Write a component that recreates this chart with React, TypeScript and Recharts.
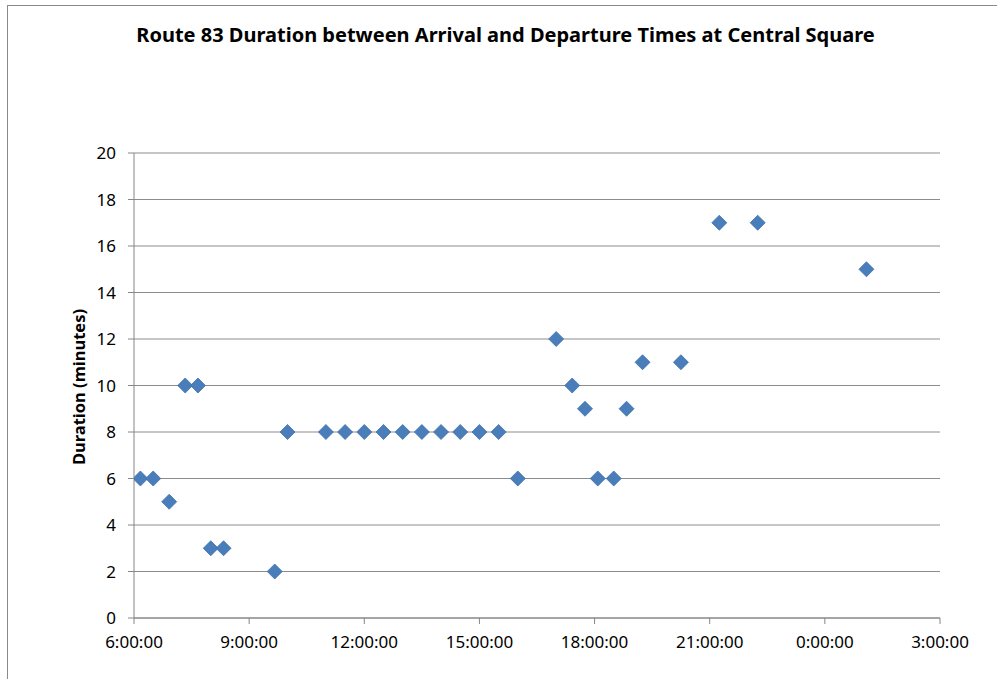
import React from "react";
import { ScatterChart, Scatter, XAxis, YAxis, CartesianGrid } from "recharts";

// hours after midnight; values past 24 are the next morning
const departHours = [
  6 + 10 / 60, 6.5, 6 + 55 / 60, 7 + 20 / 60, 7 + 40 / 60, 8, 8 + 20 / 60, 9 + 40 / 60,
  10, 11, 11.5, 12, 12.5, 13, 13.5, 14, 14.5, 15, 15.5, 16,
  17, 17 + 25 / 60, 17.75, 18 + 5 / 60, 18.5, 18 + 50 / 60, 19.25, 20.25, 21.25, 22.25, 25 + 5 / 60,
];
const durations = [
  6, 6, 5, 10, 10, 3, 3, 2,
  8, 8, 8, 8, 8, 8, 8, 8, 8, 8, 8, 6,
  12, 10, 9, 6, 6, 9, 11, 11, 17, 17, 15,
];
const xTicks = [6, 9, 12, 15, 18, 21, 24, 27];
const yTicks = [0, 2, 4, 6, 8, 10, 12, 14, 16, 18, 20];

const data = departHours.map((h, i) => ({ t: h, d: durations[i] }));

const FONT = "'Noto Sans', 'Open Sans', sans-serif";
const AXIS = "#868686";

const fmtTime = (h: number) => `${h % 24}:00:00`;

const Diamond = (props: any) => {
  const { cx, cy } = props;
  const r = 7.5;
  return (
    <polygon
      points={`${cx},${cy - r} ${cx + r},${cy} ${cx},${cy + r} ${cx - r},${cy}`}
      fill="#4a7ebb"
      stroke="#3f70ad"
      strokeWidth={0.8}
    />
  );
};

export default function App() {
  return (
    <div style={{ position: "relative", width: 997, height: 679, background: "#fff", fontFamily: FONT }}>
      <style>{"body{margin:0;overflow:hidden;background:#fff}"}</style>
      <div
        style={{
          position: "absolute", left: 7, top: 5, width: 990, height: 674,
          borderLeft: "1px solid #8a8a8a", borderTop: "1px solid #8a8a8a", boxSizing: "border-box",
        }}
      />
      <div
        style={{
          position: "absolute", left: 0, top: 21, width: 1011, textAlign: "center",
          fontSize: 20, fontWeight: 700, color: "#000",
        }}
      >
        Route 83 Duration between Arrival and Departure Times at Central Square
      </div>
      <div
        style={{
          position: "absolute", left: 78, top: 387, transform: "translate(-50%, -50%) rotate(-90deg)",
          fontSize: 16.5, fontWeight: 700, color: "#000", whiteSpace: "nowrap",
        }}
      >
        Duration (minutes)
      </div>
      <div style={{ position: "absolute", left: 0, top: 0 }}>
        <ScatterChart width={997} height={679} margin={{ top: 153, right: 57, bottom: 0, left: 0 }}>
          <CartesianGrid vertical={false} stroke="#8c8c8c" strokeWidth={1} />
          <XAxis
            type="number"
            dataKey="t"
            domain={[6, 27]}
            ticks={xTicks}
            tickFormatter={fmtTime}
            height={61}
            stroke={AXIS}
            tickSize={6}
            tickMargin={12}
            tick={{ fill: "#000", fontSize: 17, fontFamily: FONT }}
            interval={0}
            allowDataOverflow
          />
          <YAxis
            type="number"
            dataKey="d"
            domain={[0, 20]}
            ticks={yTicks}
            width={134}
            stroke={AXIS}
            tickSize={6}
            tickMargin={12}
            tick={{ fill: "#000", fontSize: 17, fontFamily: FONT }}
            interval={0}
          />
          <Scatter data={data} shape={Diamond} isAnimationActive={false} />
        </ScatterChart>
      </div>
    </div>
  );
}
